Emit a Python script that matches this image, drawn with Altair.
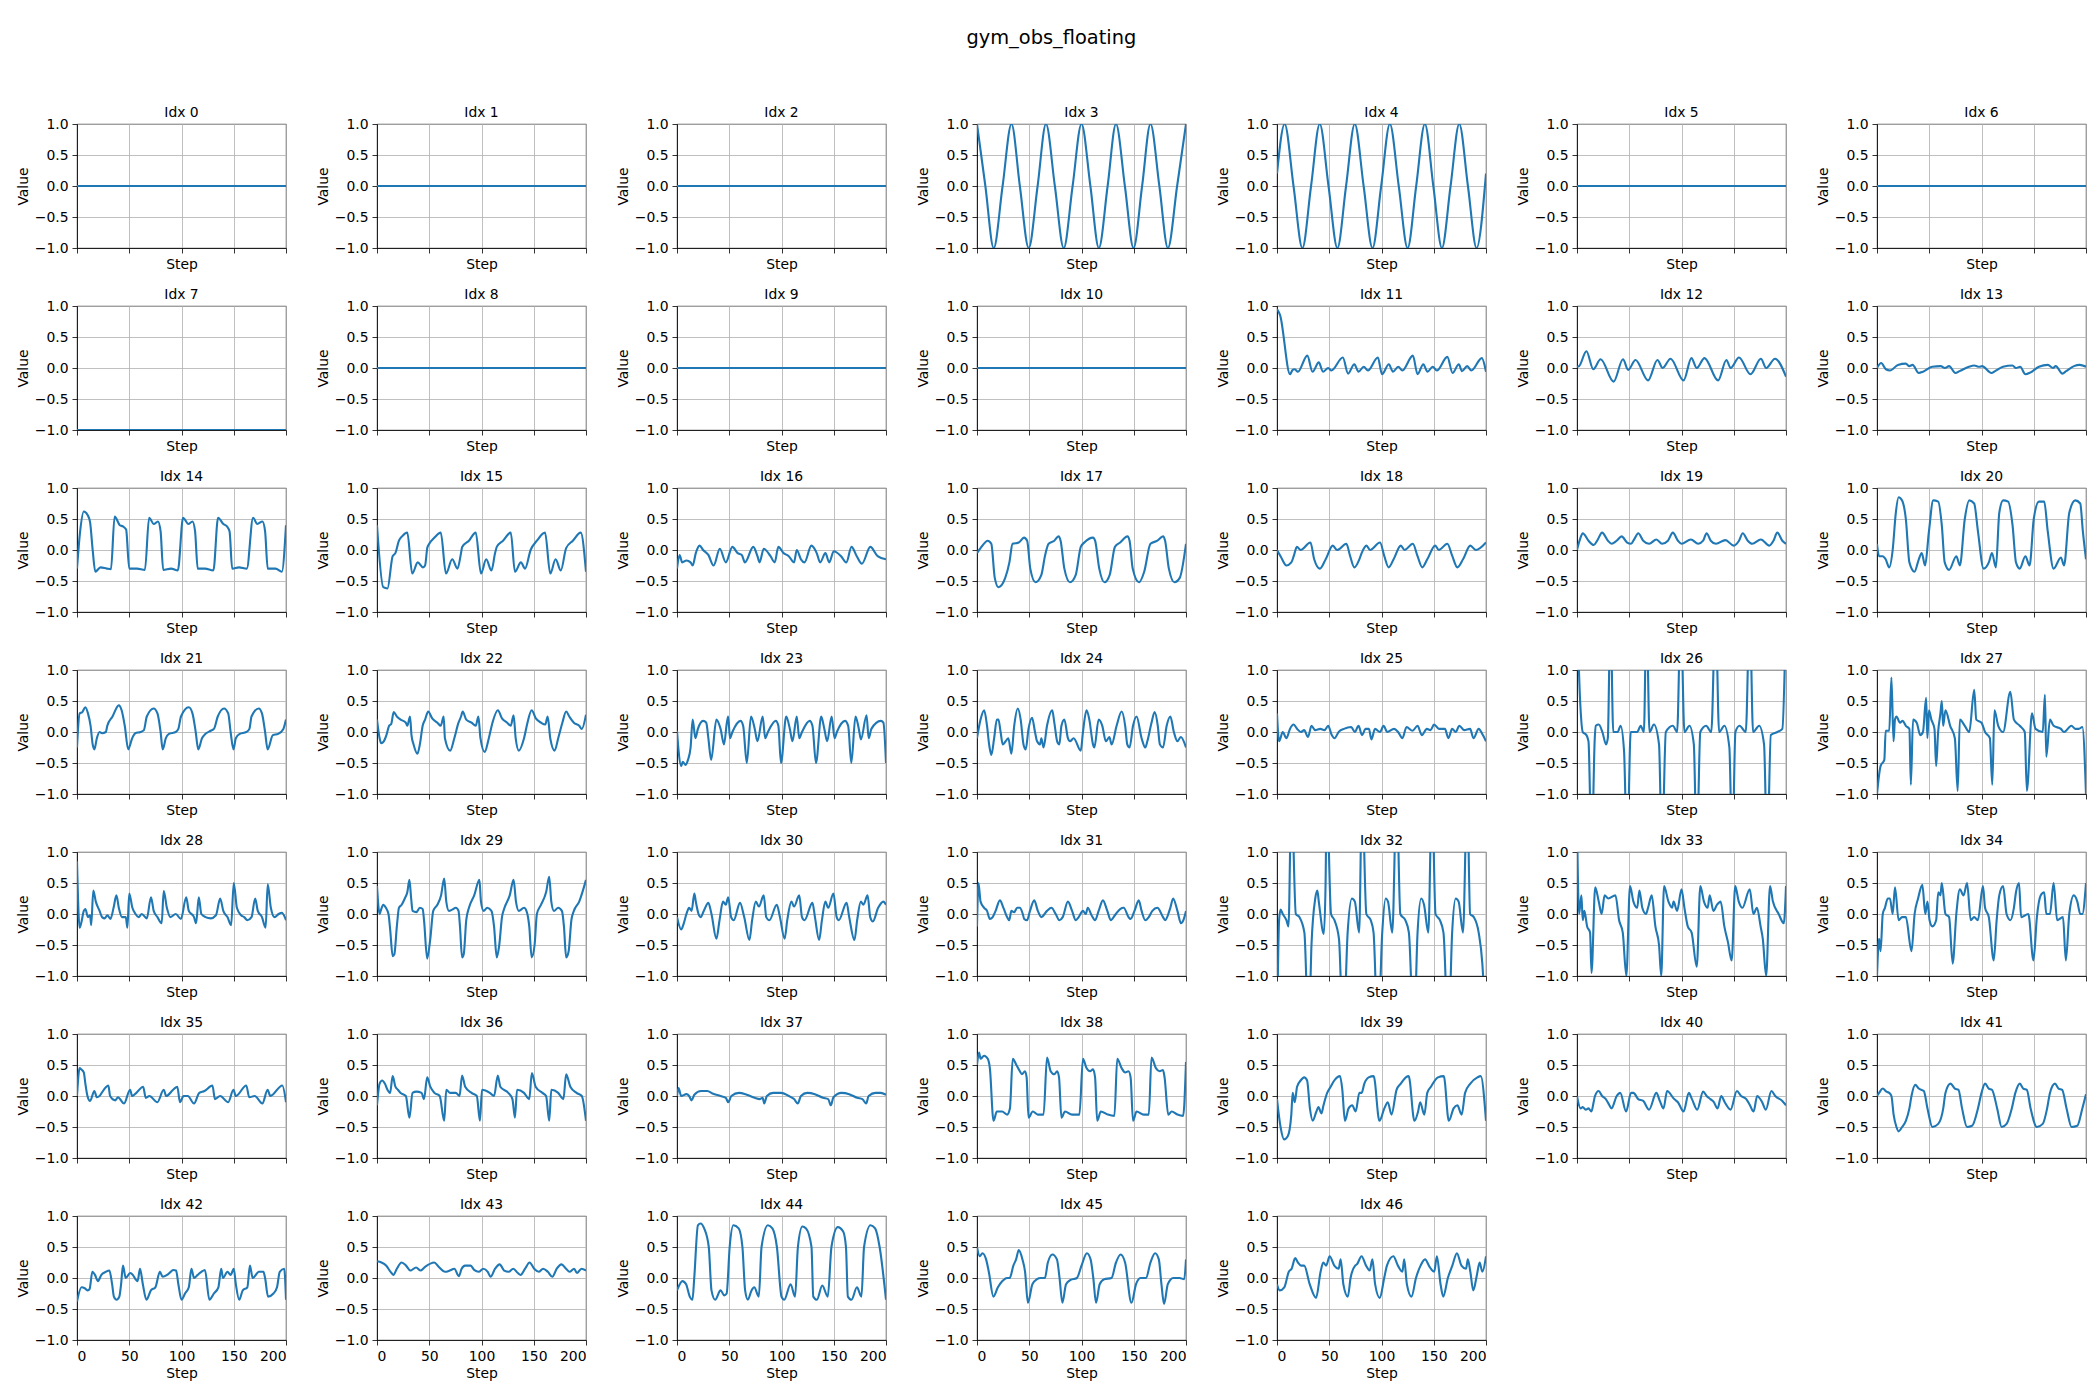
import altair as alt
import pandas as pd

TITLE = "gym_obs_floating"
X_TICKS = [0, 50, 100, 150, 200]
Y_TICKS = [-1.0, -0.5, 0.0, 0.5, 1.0]
LINE_COLOR = "#1f77b4"

IDX_00 = [(0, 0.0), (200, 0.0)]
IDX_01 = [(0, 0.0), (200, 0.0)]
IDX_02 = [(0, 0.0), (200, 0.0)]
IDX_03 = [(0, 1), (8, 0), (16, -1), (24.5, 0), (33, 1), (41, 0), (49.5, -1), (58, 0), (66, 1), (74.5, 0),
          (83, -1), (91.5, 0), (100, 1), (108.5, 0), (116.6, -1), (125, 0), (133, 1), (141.5, 0), (149.8, -1),
          (158, 0), (166, 1), (174.5, 0), (182.7, -1), (191.5, 0), (200, 1)]
IDX_04 = [(0, 0.2), (7.3, 1), (15.8, 0), (24.3, -1), (32.6, 0), (40.9, 1), (49.3, 0), (57.8, -1), (66.1, 0),
          (74.4, 1), (82.9, 0), (91.4, -1), (99.7, 0), (108, 1), (116.5, 0), (125, -1), (133.2, 0), (141.5, 1),
          (149.6, 0), (157.8, -1), (166.1, 0), (174.4, 1), (182.7, 0), (191, -1), (200, 0.2)]
IDX_05 = [(0, 0.0), (200, 0.0)]
IDX_06 = [(0, 0.0), (200, 0.0)]
IDX_07 = [(0, -1.0), (200, -1.0)]
IDX_08 = [(0, 0.0), (200, 0.0)]
IDX_09 = [(0, 0.0), (200, 0.0)]
IDX_10 = [(0, 0.0), (200, 0.0)]
IDX_11 = [(0, 0.95), (3, 0.85), (12.5, -0.1), (15, -0.03), (17, -0.02), (20, -0.06), (29, 0.2), (34, -0.06),
          (40, 0.09), (44, -0.06), (49, 0.0), (52, -0.04), (63, 0.17), (68, -0.09), (74, 0.06), (78, -0.06),
          (83, 0.02), (87, -0.04), (96.5, 0.17), (100.5, -0.1), (107, 0.06), (111, -0.06), (116, 0.02),
          (120, -0.04), (130, 0.2), (134.5, -0.1), (140, 0.06), (144, -0.06), (149, 0.02), (153, -0.04),
          (163, 0.18), (168, -0.08), (174, 0.06), (177, -0.05), (182, 0.03), (186, -0.04), (196, 0.16),
          (200, -0.06)]
IDX_12 = [(0, 0.02), (2, 0.03), (9, 0.27), (15.6, -0.02), (22.6, 0.14), (35, -0.22), (44, 0.14), (49, -0.03),
          (56, 0.13), (68, -0.2), (77, 0.13), (82, 0.0), (89.5, 0.15), (102, -0.2), (109.5, 0.16), (114.6, 0.0),
          (122, 0.16), (135, -0.2), (143, 0.13), (147, 0.0), (155, 0.17), (166, -0.1), (176, 0.15), (181, 0.0),
          (189.5, 0.15), (200, -0.14)]
IDX_13 = [(0, 0.0), (4, 0.08), (8.5, -0.02), (12.5, -0.04), (20, 0.05), (27.6, 0.07), (31, 0.03), (34, 0.05),
          (40, -0.08), (44, -0.06), (52.8, 0.02), (61, 0.03), (65, 0.0), (69, 0.03), (75, -0.08), (79, -0.05),
          (88, 0.02), (93, 0.04), (98, 0.02), (100.5, 0.03), (109.5, -0.08), (113, -0.05), (120.6, 0.02),
          (129.6, 0.04), (133, 0.0), (137, 0.02), (142, -0.1), (147, -0.07), (155, 0.02), (163.5, 0.05),
          (168.5, 0.0), (171, 0.03), (177.5, -0.09), (181, -0.05), (188.5, 0.03), (194, 0.05), (200, 0.02)]
IDX_14 = [(0, -0.3), (3, 0.3), (6.5, 0.62), (10, 0.57), (12.5, 0.45), (15, 0.0), (17.5, -0.35), (22.5, -0.28),
          (28.5, -0.3), (32.5, -0.31), (36, 0.54), (41, 0.4), (44, 0.38), (47, 0.33), (50, -0.3), (57.5, -0.3),
          (65, -0.32), (69, 0.52), (73.5, 0.42), (77.5, 0.46), (80, 0.3), (82.5, -0.32), (90, -0.3),
          (96.5, -0.33), (101.5, 0.52), (106.5, 0.42), (110.5, 0.46), (113, 0.3), (115.5, -0.3), (122.5, -0.3),
          (130.5, -0.33), (135, 0.52), (140, 0.42), (143.5, 0.38), (146, 0.3), (148.5, -0.3), (155, -0.28),
          (162.5, -0.3), (168.5, 0.52), (172.5, 0.42), (177.5, 0.46), (180, 0.3), (182.5, -0.3), (190, -0.3),
          (196, -0.35), (200, 0.4)]
IDX_15 = [(0, 0.4), (6, -0.6), (10, -0.62), (15, -0.1), (17.6, -0.05), (21, 0.15), (24, 0.22), (29, 0.28),
          (33.7, -0.38), (39, -0.2), (44, -0.28), (46, -0.25), (48.2, 0.04), (50, 0.1), (55, 0.2), (61, 0.28),
          (66, -0.38), (72, -0.15), (77, -0.3), (80.4, -0.05), (81.5, 0.05), (88, 0.15), (94.5, 0.28),
          (99.5, -0.38), (104.5, -0.15), (109.5, -0.33), (113, -0.05), (114.6, 0.05), (120.6, 0.15),
          (128, 0.28), (132, -0.35), (137.7, -0.2), (141.7, -0.3), (147, 0.0), (153, 0.15), (160.8, 0.28),
          (165.8, -0.38), (170.9, -0.15), (175.9, -0.33), (181, 0.03), (187.4, 0.15), (195, 0.28), (200, -0.35)]
IDX_16 = [(0, -0.3), (2.5, -0.08), (5, -0.2), (9, -0.17), (13, -0.2), (15, -0.25), (18, -0.05), (21.6, 0.07),
          (25, 0.0), (30, -0.08), (35, -0.25), (41, 0.02), (46.7, -0.2), (53, 0.05), (58, -0.05), (62, -0.08),
          (65, -0.2), (73, 0.05), (77, -0.1), (79, -0.2), (83, 0.02), (89.5, -0.1), (93.5, -0.2), (97, 0.05),
          (102, -0.05), (107, -0.1), (112, -0.2), (114.6, 0.0), (118.6, -0.15), (122, -0.2), (128.6, 0.07),
          (133.7, -0.05), (137, -0.2), (142, -0.05), (145.7, -0.2), (150, -0.02), (157, -0.1), (162, -0.2),
          (167, 0.05), (172, -0.1), (177, -0.22), (185, 0.05), (192, -0.1), (200, -0.15)]
IDX_17 = [(0, -0.05), (3.4, 0.03), (10.3, 0.15), (13.7, 0.1), (17, -0.45), (20.5, -0.6), (27, -0.45),
          (31, -0.2), (34, 0.1), (40, 0.12), (45, 0.2), (48, 0.15), (51, -0.3), (56, -0.52), (61.6, -0.4),
          (65, -0.1), (68.5, 0.1), (74, 0.15), (78, 0.22), (80, 0.15), (83.6, -0.3), (89, -0.52), (94.5, -0.4),
          (99.3, 0.05), (102.7, 0.12), (111, 0.2), (113, 0.15), (117, -0.3), (122, -0.52), (127, -0.4),
          (132, 0.05), (137, 0.12), (144, 0.22), (146, 0.15), (149, -0.3), (155, -0.52), (160, -0.35),
          (166, 0.1), (172.6, 0.15), (178, 0.22), (180, 0.15), (183.6, -0.3), (189, -0.52), (194, -0.45),
          (200, 0.1)]
IDX_18 = [(0, 0.0), (3.4, -0.1), (9, -0.25), (13.7, -0.2), (16, -0.1), (19, 0.05), (22.6, 0.0), (32, 0.12),
          (35.6, -0.15), (41, -0.3), (46.6, -0.15), (53.4, 0.07), (57.5, 0.0), (66.4, 0.1), (70, -0.1),
          (74, -0.28), (78.8, -0.15), (81, -0.05), (85.6, 0.07), (89, 0.0), (98.6, 0.12), (102.7, -0.1),
          (106.8, -0.28), (111.6, -0.15), (118.5, 0.07), (122, 0.0), (130, 0.1), (134.5, -0.1), (139, -0.28),
          (143.8, -0.15), (151.4, 0.07), (154.8, 0.0), (163, 0.1), (167.8, -0.1), (172.6, -0.28), (178, -0.15),
          (185, 0.07), (190.4, 0.0), (200, 0.12)]
IDX_19 = [(0, 0.0), (3.4, 0.2), (5.5, 0.27), (11, 0.15), (16, 0.08), (19.3, 0.15), (24, 0.28), (29.6, 0.15),
          (33, 0.1), (38, 0.15), (42.7, 0.22), (48, 0.12), (51.7, 0.1), (55, 0.18), (58.6, 0.27), (63.4, 0.15),
          (69, 0.1), (76, 0.17), (81.4, 0.1), (87, 0.15), (91.7, 0.28), (96.6, 0.15), (100, 0.1), (109, 0.17),
          (116, 0.1), (120.7, 0.15), (124, 0.27), (128, 0.15), (133, 0.1), (142, 0.16), (150, 0.07),
          (155, 0.15), (158.6, 0.27), (163.4, 0.15), (167.6, 0.1), (176, 0.17), (184, 0.07), (188, 0.15),
          (191.7, 0.28), (196.5, 0.15), (200, 0.1)]
IDX_20 = [(0, 0.1), (2, -0.1), (5.5, -0.1), (8.3, -0.15), (11.7, -0.28), (15, 0.0), (18, 0.6), (20.7, 0.85),
          (24, 0.8), (27.6, 0.5), (31, -0.2), (35.9, -0.35), (40, -0.15), (42.8, -0.05), (46, -0.25),
          (49.7, 0.3), (53.8, 0.8), (58.6, 0.78), (62, 0.4), (64.8, -0.2), (69, -0.32), (75.9, -0.1),
          (79.3, -0.25), (84, 0.5), (88.3, 0.8), (93, 0.75), (96.6, 0.3), (102, -0.3), (107, -0.2),
          (110, -0.05), (113.8, -0.28), (117, 0.6), (120.7, 0.8), (125.5, 0.78), (129.7, 0.4), (133, -0.2),
          (136.6, -0.3), (142, -0.1), (146, -0.25), (150, 0.5), (155, 0.78), (160, 0.78), (163.4, 0.3),
          (169, -0.3), (176, -0.12), (179, -0.25), (184, 0.6), (189.7, 0.8), (194.5, 0.75), (197, 0.3),
          (200, -0.15)]
IDX_21 = [(0, -0.25), (2.5, 0.3), (5, 0.32), (8, 0.4), (10.5, 0.3), (13, 0.1), (15, -0.2), (16.6, -0.28),
          (19, -0.1), (21.6, 0.0), (24, -0.02), (27.6, 0.0), (29, 0.1), (34, 0.25), (40, 0.43), (42.7, 0.35),
          (45.7, 0.1), (49, -0.28), (52.8, -0.1), (55.8, -0.02), (60.8, 0.0), (64, 0.03), (66.8, 0.25),
          (73.4, 0.38), (77, 0.3), (80, 0.0), (82, -0.28), (85, -0.1), (88, -0.03), (94.5, 0.0), (97, 0.05),
          (99.5, 0.25), (107, 0.4), (110.5, 0.3), (113.6, 0.0), (116, -0.28), (119.6, -0.1), (123, -0.03),
          (128, 0.02), (131, 0.05), (134.7, 0.25), (140.7, 0.38), (144.7, 0.3), (147, 0.0), (149.7, -0.28),
          (152, -0.1), (155.8, -0.03), (162, 0.0), (165, 0.05), (167, 0.25), (174, 0.38), (177, 0.3),
          (180, 0.0), (182.4, -0.28), (187.4, -0.05), (192.5, -0.03), (197.5, 0.05), (200, 0.2)]
IDX_22 = [(0, 0.2), (2.5, -0.1), (4, -0.18), (6.5, -0.15), (9, -0.05), (11.6, 0.1), (13.6, 0.13), (16, 0.32),
          (19, 0.25), (22.6, 0.2), (27.6, 0.15), (29, 0.1), (31.6, 0.25), (33, -0.05), (35, -0.2),
          (38.7, -0.35), (41, -0.2), (43.7, 0.1), (46, 0.2), (49, 0.33), (52.8, 0.22), (57.8, 0.15), (61, 0.1),
          (63.8, 0.25), (65, -0.1), (70, -0.3), (74, -0.1), (78, 0.15), (80.4, 0.25), (82, 0.33), (85.4, 0.2),
          (90.5, 0.15), (94.5, 0.1), (97, 0.25), (99, -0.1), (103, -0.32), (107, -0.1), (110.5, 0.15),
          (115.6, 0.35), (119.6, 0.22), (124.6, 0.15), (128, 0.1), (130.7, 0.27), (132.7, -0.1), (135.7, -0.3),
          (140.7, -0.1), (144, 0.15), (148, 0.35), (152, 0.22), (157, 0.15), (161, 0.12), (163.3, 0.25),
          (165.8, -0.1), (170, -0.3), (173.4, -0.1), (177.4, 0.15), (181, 0.33), (184, 0.25), (188.4, 0.15),
          (193.5, 0.1), (196, 0.05), (200, 0.28)]
IDX_23 = [(0, 0.02), (1.5, -0.3), (4, -0.55), (5.5, -0.48), (8, -0.53), (10.5, -0.45), (13, -0.25), (15, 0.2),
          (17.6, -0.1), (20, 0.05), (25, 0.18), (28, 0.15), (30, -0.1), (32.7, -0.45), (37.7, 0.2),
          (41.7, 0.05), (45, -0.2), (47.7, 0.15), (49, 0.25), (50.7, -0.1), (53, 0.0), (60.8, 0.18),
          (63.3, 0.1), (66.8, -0.5), (70.8, 0.25), (74.4, 0.05), (77, -0.15), (82, 0.25), (84.4, -0.1),
          (87, 0.0), (94.5, 0.18), (97, 0.1), (99.5, -0.5), (104.5, 0.25), (108, 0.05), (110.5, -0.15),
          (114.6, 0.25), (117, -0.1), (119.6, 0.0), (127, 0.18), (129.6, 0.1), (133, -0.5), (138, 0.25),
          (141, 0.05), (143.7, -0.15), (148, 0.25), (150.8, -0.1), (153, 0.0), (160.8, 0.18), (163.8, 0.1),
          (166.8, -0.5), (170.8, 0.25), (174, 0.05), (176, -0.12), (181.4, 0.27), (183.4, -0.1), (186, 0.05),
          (195, 0.18), (197.5, 0.15), (200, -0.5)]
IDX_24 = [(0, -0.1), (3.4, 0.2), (6.8, 0.35), (9.6, 0.1), (11.6, -0.2), (13.7, -0.37), (16.4, -0.1), (19, 0.2),
          (20.5, 0.2), (22.6, 0.0), (24.6, -0.2), (27.4, -0.15), (30, -0.1), (32.9, -0.35), (35.6, 0.1),
          (39, 0.38), (41.8, 0.2), (44.5, -0.2), (46.6, -0.28), (49.3, 0.05), (52.7, 0.23), (55.5, 0.0),
          (57.5, -0.15), (60.3, -0.2), (61.6, -0.1), (63.7, -0.25), (67, 0.1), (72, 0.35), (74, 0.15),
          (76.7, -0.15), (78.8, -0.2), (80.8, 0.1), (83.6, 0.2), (87, -0.1), (89, -0.15), (92.5, -0.1),
          (99.3, -0.3), (101.4, 0.0), (104.8, 0.35), (107.5, 0.2), (111, -0.2), (112.3, -0.25), (116.4, 0.2),
          (119.9, 0.1), (123.3, -0.15), (126.7, -0.08), (128.8, -0.2), (133.6, 0.1), (138.4, 0.33),
          (141.8, 0.1), (143.8, -0.2), (146, -0.25), (149.3, 0.1), (152.7, 0.25), (157.5, -0.1), (161, -0.25),
          (163, -0.15), (167, 0.15), (170, 0.32), (173, 0.1), (175, -0.2), (178, -0.25), (181.5, 0.1),
          (185, 0.25), (188.4, 0.0), (191.8, -0.15), (195, -0.08), (200, -0.25)]
IDX_25 = [(0, 0.3), (2, -0.15), (5.5, 0.0), (9, -0.1), (12.4, 0.05), (15.9, 0.12), (19.3, 0.05), (22.8, 0.0),
          (26, 0.03), (29.7, -0.08), (33, 0.1), (36.5, 0.03), (41.4, 0.05), (45.5, 0.03), (49, 0.1),
          (52.4, -0.05), (55, -0.1), (59, 0.0), (64, 0.05), (71, 0.08), (74.5, 0.0), (78, 0.1), (81.4, -0.05),
          (84.8, 0.05), (88, 0.05), (90.3, -0.12), (93.8, 0.05), (98.6, 0.0), (102, 0.1), (105.5, 0.0),
          (112, 0.05), (115.9, 0.0), (120, -0.1), (124, 0.08), (129.7, 0.02), (134.5, 0.1), (138.6, -0.05),
          (143.4, 0.05), (146.9, 0.03), (150.3, 0.12), (155, 0.05), (160.7, 0.05), (164, -0.1), (167.6, 0.05),
          (171, 0.0), (174.5, 0.1), (179, 0.03), (184.8, 0.05), (188, -0.1), (193, 0.05), (197, -0.05),
          (200, -0.15)]
IDX_26 = [(0, 2.0), (3, 0.5), (5.5, 0.0), (9, -0.05), (11, -0.15), (14, -2.0), (17, -0.1), (18, 0.1),
          (20.8, 0.12), (24.3, 0.0), (27.8, -0.2), (29.5, -0.1), (32, 2.0), (34.7, 0.0), (38.9, 0.0),
          (41.7, 0.1), (45, -0.3), (48, -2.0), (51.4, 0.0), (57.6, 0.0), (61, 0.1), (64, 0.0), (66.5, 2.0),
          (69.4, 0.0), (73.6, 0.12), (78.5, -0.2), (81.3, -2.0), (85, 0.0), (91.7, 0.1), (95.8, 0.0),
          (99.3, 2.0), (102.8, 0.0), (107.6, 0.1), (111.8, -0.2), (114.6, -2.0), (118, 0.0), (123.6, 0.1),
          (128.5, 0.0), (132.6, 2.0), (136, 0.0), (141, 0.1), (145.8, -0.25), (148.6, -2.0), (151.6, 0.0),
          (155.6, 0.1), (161.5, 0.0), (165.3, 2.0), (168.5, 0.0), (174.3, 0.1), (179, -0.2), (182, -2.0),
          (185.5, -0.05), (191.7, 0.0), (196.5, 0.05), (200, 2.0)]
IDX_27 = [(0, -1.0), (3.4, -0.55), (7, -0.45), (8.3, 0.02), (11.7, 0.02), (13.8, 0.88), (15.8, -0.15),
          (17.2, 0.2), (18.6, 0.25), (22, 0.15), (24.5, 0.18), (27.6, 0.1), (31, 0.05), (32.4, -0.85),
          (34.5, 0.2), (38, 0.15), (41.4, -0.05), (44, 0.0), (47, 0.55), (48.2, -0.1), (49.7, 0.35),
          (52, 0.2), (55, 0.05), (56.6, -0.55), (58.5, 0.0), (60.7, 0.3), (62, 0.5), (63.3, 0.1), (65.5, 0.35),
          (70, 0.1), (74.5, -0.1), (77.2, -0.95), (79.3, 0.2), (84, 0.1), (88.3, 0.0), (93, 0.68), (95, 0.2),
          (100, 0.15), (103.4, 0.0), (108, -0.1), (110.3, -0.85), (112.4, 0.35), (116, 0.1), (120.7, 0.0),
          (127.6, 0.65), (131, 0.2), (136.6, 0.1), (141.4, 0.0), (143.4, -0.95), (148.3, 0.3), (151.7, 0.05),
          (158.6, 0.0), (160.7, 0.6), (162, -0.4), (165.5, 0.2), (169, 0.1), (176, 0.05), (179, 0.0),
          (186, 0.1), (190, 0.05), (193, 0.05), (196.5, 0.08), (200, -1.0)]
IDX_28 = [(0, 0.85), (2.5, -0.22), (4, -0.15), (6.5, 0.05), (8, 0.08), (10.5, -0.05), (12.5, -0.02),
          (13.6, -0.18), (15.6, 0.38), (18, 0.2), (21.6, 0.05), (24, -0.05), (26.6, -0.07), (29, -0.02),
          (32, -0.08), (35, 0.1), (37.7, 0.3), (40, 0.1), (43, -0.05), (46.7, -0.05), (48.2, -0.22), (50, 0.33),
          (53, 0.1), (56, 0.0), (59, -0.05), (62, 0.0), (66.8, -0.07), (70.8, 0.27), (73.4, 0.05), (77, -0.05),
          (81, -0.15), (83, 0.37), (86, 0.1), (89.4, -0.05), (94.5, 0.0), (99.5, -0.08), (104.5, 0.27),
          (107, 0.05), (112, -0.05), (114, -0.15), (116.5, 0.27), (119, 0.0), (123, -0.05), (128, -0.07),
          (133, -0.02), (137, 0.25), (140, 0.05), (144, -0.05), (147.5, -0.18), (150, 0.5), (153, 0.1),
          (157, -0.02), (160, -0.05), (163, -0.1), (167, -0.05), (170.5, 0.25), (173, 0.05), (177, -0.05),
          (180.5, -0.22), (182.5, 0.48), (185.5, 0.1), (189, -0.05), (193, 0.0), (196, 0.02), (200, -0.1)]
IDX_29 = [(0, 0.45), (2.5, 0.0), (3.5, 0.05), (6, 0.15), (8.5, 0.1), (11, 0.0), (12.6, -0.25), (15, -0.68),
          (16.6, -0.65), (19, -0.2), (21, 0.1), (23.6, 0.15), (26.6, 0.25), (29, 0.35), (31, 0.55),
          (32.7, 0.25), (34, 0.05), (37.7, 0.03), (41, 0.1), (43.7, 0.08), (45, -0.1), (48, -0.72), (51, -0.4),
          (53.8, 0.05), (57.8, 0.15), (61.3, 0.3), (64.3, 0.57), (66.3, 0.2), (68.8, 0.05), (71.9, 0.07),
          (75.4, 0.1), (78, 0.05), (79.4, -0.2), (81.4, -0.7), (83, -0.65), (85.4, -0.1), (88, 0.1), (93, 0.3),
          (98, 0.55), (99.5, 0.2), (102, 0.05), (105.5, 0.1), (109.5, 0.05), (112, -0.2), (114.6, -0.7),
          (117, -0.5), (119.6, -0.05), (122, 0.1), (127, 0.3), (130.7, 0.55), (133, 0.2), (135.7, 0.05),
          (140.7, 0.1), (143, 0.05), (145.7, -0.2), (148, -0.7), (150.8, -0.5), (153, 0.0), (157, 0.15),
          (161.8, 0.35), (164.8, 0.6), (166.8, 0.2), (169.3, 0.05), (173.4, 0.1), (176.9, 0.05), (178.9, -0.2),
          (181, -0.7), (183.4, -0.6), (186, -0.1), (188.4, 0.05), (193.5, 0.2), (200, 0.55)]
IDX_30 = [(0, -0.05), (4, -0.25), (6.5, -0.15), (9, 0.0), (11.6, 0.1), (14, 0.05), (16.6, 0.33), (18, 0.2),
          (20.6, 0.0), (22.6, -0.05), (25.6, 0.05), (30, 0.18), (33, 0.0), (37.7, -0.4), (40.7, -0.1),
          (44, 0.2), (46.7, 0.15), (49, 0.27), (51.8, -0.05), (54.3, -0.1), (60.3, 0.18), (64.3, -0.05),
          (69.3, -0.42), (71.9, -0.1), (75.4, 0.2), (78.4, 0.12), (83, 0.3), (85.4, -0.05), (88.4, -0.1),
          (95.5, 0.15), (98.5, -0.05), (103, -0.4), (105.5, -0.1), (109.5, 0.2), (112, 0.12), (117, 0.3),
          (119.6, -0.05), (122, -0.1), (129.6, 0.18), (132, -0.05), (136, -0.42), (138.7, -0.1), (142, 0.2),
          (144.7, 0.1), (149.7, 0.33), (152.8, -0.05), (154.8, -0.1), (162.3, 0.18), (164.8, -0.05),
          (169.8, -0.42), (172.4, -0.1), (175.9, 0.2), (178.4, 0.15), (182.4, 0.3), (184.9, -0.05),
          (187.4, -0.12), (192.5, 0.1), (197.5, 0.2), (200, 0.15)]
IDX_31 = [(0, -0.2), (1.4, 0.5), (3.4, 0.2), (6.8, 0.1), (9.6, 0.05), (12.3, -0.08), (15, -0.05),
          (17.8, 0.05), (21.9, 0.22), (25.3, 0.1), (28.8, -0.05), (30.8, -0.1), (32.9, 0.05), (35.6, 0.03),
          (38.4, 0.1), (41, 0.1), (43.8, 0.0), (45.2, -0.08), (47.9, -0.1), (50.7, 0.05), (54.8, 0.22),
          (58.2, 0.05), (61.6, -0.05), (67, 0.05), (71.2, 0.1), (75.3, 0.0), (78.8, -0.1), (82, -0.05),
          (87, 0.2), (91, 0.05), (94.5, -0.1), (97.3, -0.05), (101.4, 0.05), (104, 0.0), (106, 0.1),
          (109.6, -0.02), (113, -0.1), (116.4, 0.05), (120.5, 0.22), (124.7, 0.05), (128, -0.1), (132, -0.02),
          (137, 0.08), (140.4, 0.1), (145, -0.05), (147, -0.08), (150.7, 0.05), (154.8, 0.22), (157.5, 0.05),
          (161, -0.1), (164.4, -0.05), (167.8, 0.05), (172.6, 0.1), (178, -0.05), (180, -0.1), (185, 0.1),
          (187.7, 0.25), (191.8, 0.05), (195.2, -0.15), (197.5, -0.1), (200, 0.05)]
IDX_32 = [(0, -2.0), (2, -0.1), (3.4, 0.07), (5.5, 0.0), (9, -0.1), (11, -0.2), (13.8, 2.0), (18, 0.0),
          (21.4, -0.05), (26.2, -0.3), (30.3, -2.0), (33, -0.5), (36.6, 0.25), (38.6, 0.38), (40, 0.2),
          (44.8, -0.32), (46.5, 0.5), (47.6, 2.0), (51.7, 0.0), (55, -0.1), (59.3, -0.4), (63.4, -2.0),
          (67.6, -0.3), (71.7, 0.25), (74.5, 0.2), (78.6, -0.3), (81.4, 2.0), (85.5, 0.0), (89.7, -0.1),
          (92.4, -0.3), (96.6, -2.0), (100.7, -0.3), (104, 0.25), (106.2, 0.2), (110.3, -0.3), (114.5, 2.0),
          (118, 0.0), (122.8, -0.1), (126.2, -0.3), (131, -2.0), (134.5, -0.3), (138, 0.25), (140.7, 0.15),
          (144.8, -0.3), (148.3, 2.0), (151.7, 0.0), (155.9, -0.1), (159.3, -0.3), (164, -2.0), (167.6, -0.3),
          (171, 0.25), (173.8, 0.2), (178, -0.3), (182, 2.0), (184.8, 0.0), (188.3, -0.05), (193, -0.3),
          (196.5, -0.8), (200, -2.0)]
IDX_33 = [(0, 1.5), (2, 0.0), (4.2, 0.3), (5.5, -0.1), (7, 0.05), (9.7, -0.2), (12.5, -0.3), (13.9, -0.95),
          (17.4, 0.43), (20.8, 0.2), (23.6, 0.0), (26.4, 0.3), (29.9, 0.25), (36.8, 0.3), (40.3, -0.1),
          (43.8, -0.3), (47.2, -1.0), (50.7, 0.45), (54, 0.2), (57.6, 0.1), (59.7, 0.38), (62.5, 0.1),
          (66, 0.0), (68, 0.1), (71.5, 0.3), (75, -0.2), (78.5, -0.5), (80.6, -1.0), (83.3, 0.45), (87.5, 0.2),
          (91, 0.1), (92.4, 0.2), (95.8, 0.05), (100, 0.4), (102.8, 0.1), (106, -0.2), (109.7, -0.3),
          (114.6, -0.85), (118, 0.45), (121.5, 0.2), (125, 0.1), (127, 0.3), (130.5, 0.05), (134, 0.15),
          (137.5, 0.2), (141, -0.2), (144.4, -0.45), (148, -0.75), (151.4, 0.45), (154.8, 0.2), (158.3, 0.1),
          (165.3, 0.4), (168.8, 0.0), (172.2, 0.1), (175.7, -0.2), (177.8, -0.4), (181, -1.0), (184.7, 0.45),
          (187.5, 0.2), (193, 0.0), (197.9, -0.15), (200, 0.45)]
IDX_34 = [(0, -1.0), (2, -0.4), (3.4, -0.6), (5.5, 0.0), (7.6, 0.1), (10.3, 0.25), (12.4, 0.25), (15, 0.0),
          (17.2, 0.43), (20.7, -0.1), (24, -0.05), (27.6, -0.05), (33, -0.6), (36, 0.0), (39.3, 0.25),
          (43.4, 0.47), (46.2, 0.0), (48.3, 0.2), (50.3, -0.1), (53, -0.2), (56.6, -0.1), (58.6, 0.35),
          (60.7, 0.3), (62, 0.5), (65.5, 0.0), (69, -0.05), (72.4, -0.8), (75.9, 0.0), (79.3, 0.4),
          (82.8, 0.3), (86.2, 0.5), (89.7, -0.1), (93, -0.05), (96.5, -0.1), (101.4, 0.45), (103.4, 0.1),
          (107, -0.05), (111.7, -0.75), (114.5, -0.1), (117, 0.3), (120.7, 0.45), (124, 0.0), (127.6, -0.1),
          (131, 0.1), (133, 0.35), (135.9, 0.5), (137.9, -0.05), (144.8, 0.0), (149.7, -0.75), (153, -0.05),
          (156.6, 0.3), (160, 0.35), (162, 0.0), (165.5, 0.0), (169, 0.5), (172.4, -0.1), (178, -0.05),
          (180.7, -0.75), (184, 0.0), (188.3, 0.3), (191.7, 0.2), (194.5, 0.0), (196.5, 0.0), (200, 0.5)]
IDX_35 = [(0, 0.0), (2.5, 0.45), (4, 0.43), (6.5, 0.38), (8, 0.2), (10, 0.0), (12.5, -0.08), (16.6, 0.08),
          (19, -0.02), (21.6, 0.0), (25.6, 0.1), (30, 0.17), (31.7, 0.0), (36.7, -0.07), (39.2, -0.02),
          (45, -0.12), (50.8, 0.1), (52.8, 0.0), (56.8, 0.05), (63.3, 0.15), (65.8, -0.03), (69.3, 0.0),
          (76.9, -0.1), (83, 0.1), (85.4, 0.0), (92, 0.1), (96, 0.15), (98.5, -0.1), (102, 0.0), (106, 0.0),
          (112, -0.12), (117, 0.05), (122, 0.08), (129.6, 0.17), (132, -0.05), (137, 0.0), (144.7, -0.1),
          (149.7, 0.1), (152, 0.0), (162, 0.17), (164.8, -0.02), (170, 0.0), (177.4, -0.12), (182.4, 0.1),
          (185, 0.0), (196.5, 0.17), (200, -0.1)]
IDX_36 = [(0, -0.15), (2.5, 0.2), (5, 0.25), (7.5, 0.2), (10, 0.1), (12.5, 0.05), (15, 0.32), (17.6, 0.15),
          (20, 0.1), (22.6, 0.05), (27.6, 0.0), (31, -0.35), (34, 0.05), (37.7, 0.07), (42.7, 0.05),
          (45, -0.05), (48, 0.3), (51, 0.15), (55, 0.05), (60, 0.0), (64.3, -0.4), (66.3, 0.1), (70, 0.05),
          (75.4, 0.05), (79, 0.0), (81.4, 0.33), (84.4, 0.15), (90.5, 0.05), (95.5, 0.0), (98.5, -0.4),
          (100.5, 0.1), (108, 0.05), (112, 0.0), (115.6, 0.33), (118, 0.15), (125.6, 0.05), (129.6, -0.05),
          (132, -0.35), (134, 0.1), (140.7, 0.05), (145.7, -0.05), (148.2, 0.37), (151.8, 0.15), (158.3, 0.05),
          (161.8, 0.0), (164.8, -0.4), (166.8, 0.1), (173.4, 0.05), (178.4, -0.05), (181, 0.35), (185, 0.15),
          (191, 0.05), (196, 0.0), (200, -0.4)]
IDX_37 = [(0, 0.0), (1.5, 0.13), (4, 0.0), (9, 0.03), (11.6, 0.0), (14, -0.07), (16.6, 0.02), (23, 0.08),
          (29, 0.08), (34, 0.04), (41.7, 0.0), (46.7, -0.03), (49, -0.1), (52, 0.0), (59.3, 0.05), (66.8, 0.02),
          (74.4, -0.03), (79.4, -0.05), (82, -0.03), (83.4, -0.12), (86, 0.0), (92, 0.05), (99.5, 0.05),
          (107, 0.0), (112, -0.05), (115.6, -0.12), (118.6, 0.0), (124.6, 0.05), (132, 0.03), (139.7, -0.03),
          (144.7, -0.05), (147.2, -0.15), (149.7, -0.02), (157.3, 0.05), (164.8, 0.03), (172.4, -0.03),
          (177.4, -0.05), (181, -0.12), (183.4, 0.0), (190, 0.05), (195, 0.05), (200, 0.02)]
IDX_38 = [(0, 0.5), (2, 0.7), (3.4, 0.6), (6.8, 0.65), (10.3, 0.6), (12.3, 0.45), (15.8, -0.4), (19, -0.25),
          (24, -0.25), (28.8, -0.3), (31.5, -0.2), (34.2, 0.6), (37.7, 0.5), (41, 0.4), (43, 0.35),
          (45.9, 0.4), (47.5, 0.3), (49.3, -0.35), (53.4, -0.25), (58.2, -0.3), (63.7, -0.3), (67, 0.62),
          (70.5, 0.4), (74, 0.35), (76.7, 0.4), (78.5, 0.3), (80.8, -0.35), (84.2, -0.25), (91, -0.3),
          (98, -0.3), (101.4, 0.6), (104.8, 0.45), (108.2, 0.4), (111, 0.43), (113, 0.3), (115, -0.4),
          (118.5, -0.25), (125.3, -0.3), (131.5, -0.32), (134.2, 0.6), (138.4, 0.45), (141.8, 0.38),
          (145, 0.4), (147, 0.3), (149.3, -0.4), (152.7, -0.25), (159.6, -0.3), (164.4, -0.3), (167, 0.62),
          (171.2, 0.45), (174.7, 0.4), (178, 0.42), (179.5, 0.3), (183, -0.3), (186.3, -0.25), (191.8, -0.3),
          (197.3, -0.32), (200, 0.55)]
IDX_39 = [(0, -0.05), (3.4, -0.5), (6.8, -0.7), (10.3, -0.65), (13.7, -0.3), (15, 0.05), (17, -0.1),
          (19.2, 0.15), (22.6, 0.25), (26, 0.3), (28.8, 0.25), (31.5, -0.2), (34.2, -0.4), (37.7, -0.25),
          (39.7, -0.18), (42.5, -0.28), (44.5, -0.15), (48, 0.05), (51.4, 0.15), (54.8, 0.25), (60.3, 0.32),
          (62.5, 0.1), (65, -0.4), (68.5, -0.2), (72, -0.15), (75.3, -0.25), (78.8, 0.05), (81, 0.05),
          (83.6, 0.2), (87.7, 0.3), (92.5, 0.32), (98, -0.4), (102.7, -0.2), (106, -0.1), (109.6, -0.3),
          (114.4, 0.1), (118.5, 0.2), (123.3, 0.3), (126, 0.32), (131.5, -0.4), (135, -0.25), (137, -0.1),
          (141, -0.3), (143.8, 0.05), (147.3, 0.15), (154, 0.3), (159.6, 0.32), (164.4, -0.4), (169, -0.2),
          (172.6, -0.15), (176.7, -0.3), (180, 0.05), (185, 0.2), (191.8, 0.3), (195, 0.32), (200, -0.4)]
IDX_40 = [(0, 0.0), (3.4, -0.2), (5.5, -0.18), (8.3, -0.22), (11, -0.2), (13.8, -0.25), (15.9, -0.1),
          (17.2, 0.0), (20.7, 0.08), (24, 0.0), (27.6, -0.05), (31, -0.15), (33, -0.2), (38, 0.0), (41.4, 0.05),
          (47, -0.25), (51.7, 0.05), (54, 0.05), (58.6, -0.05), (63.4, -0.08), (69, -0.22), (75.9, 0.05),
          (79.3, -0.08), (82.8, -0.2), (86.2, 0.08), (93, -0.05), (96.6, -0.1), (102, -0.25), (107, 0.05),
          (110, -0.05), (115, -0.22), (120.7, 0.07), (124, 0.0), (127.6, -0.05), (131, -0.1), (134.5, -0.2),
          (138, 0.0), (141.4, -0.1), (147, -0.22), (153, 0.08), (157, 0.0), (162, -0.05), (165.5, -0.15),
          (169, -0.25), (172.4, 0.0), (177.2, -0.1), (180.7, -0.22), (186, 0.08), (189.7, 0.0), (196.5, -0.08),
          (200, -0.15)]
IDX_41 = [(0, 0.0), (2, 0.05), (5.5, 0.12), (9, 0.07), (11.7, 0.05), (13.8, 0.0), (15.9, -0.3), (18.6, -0.5),
          (20.7, -0.57), (24, -0.5), (27.6, -0.4), (31, -0.2), (33, 0.0), (36.6, 0.18), (40, 0.12),
          (44.8, 0.08), (48.3, -0.2), (53, -0.5), (58.6, -0.45), (63.4, -0.2), (65.5, 0.05), (70.3, 0.2),
          (74.5, 0.12), (78, 0.1), (81.4, -0.2), (86.2, -0.5), (91, -0.48), (96.6, -0.2), (100, 0.05),
          (103.4, 0.2), (107, 0.12), (110, 0.1), (115, -0.2), (119.3, -0.5), (124, -0.45), (129, -0.2),
          (132.4, 0.05), (136.6, 0.2), (140, 0.12), (143.4, 0.1), (147, -0.2), (153, -0.5), (158.6, -0.45),
          (162.8, -0.2), (165.5, 0.05), (170.3, 0.2), (173.8, 0.12), (177.2, 0.1), (181.4, -0.2), (186.2, -0.5),
          (191.7, -0.48), (196.5, -0.2), (200, 0.03)]
IDX_42 = [(0, -0.38), (4.3, -0.15), (7.8, -0.17), (10.3, -0.2), (12, -0.18), (14.7, 0.1), (17.2, 0.05),
          (20, -0.05), (23.3, 0.05), (27.6, 0.1), (31, 0.12), (33.6, -0.1), (35.3, -0.3), (37.9, -0.35),
          (40.5, -0.3), (42.2, -0.1), (44, 0.2), (46.6, 0.0), (50.9, 0.08), (53.4, 0.05), (56, -0.02),
          (58, -0.05), (60.3, 0.15), (63, -0.1), (66.4, -0.35), (70.7, -0.2), (75, -0.15), (79.3, 0.1),
          (82, 0.02), (86.2, 0.05), (89.7, 0.1), (92.2, 0.13), (94.8, 0.12), (97, -0.1), (100, -0.35),
          (103.4, -0.25), (107, -0.15), (109.5, 0.15), (112, 0.0), (115.5, 0.05), (119, 0.1), (122.4, 0.13),
          (126.7, -0.35), (131, -0.25), (135.3, -0.15), (138, 0.15), (139.7, 0.0), (144, 0.1), (147, 0.05),
          (150, 0.15), (152, -0.1), (155.2, -0.35), (158.6, -0.2), (163, -0.15), (165.5, 0.2), (168.1, 0.0),
          (174.1, 0.1), (178.4, 0.1), (180, 0.0), (182.8, -0.3), (188, -0.25), (191.4, -0.15), (194, 0.1),
          (198.3, 0.15), (200, -0.35)]
IDX_43 = [(0, 0.27), (4.3, 0.25), (8.7, 0.2), (13, 0.1), (15.7, 0.05), (19, 0.15), (23.5, 0.25), (27.8, 0.2),
          (32, 0.12), (37.4, 0.17), (41.7, 0.12), (46, 0.18), (54.8, 0.25), (59, 0.18), (65, 0.1), (69.6, 0.12),
          (74, 0.15), (78.3, 0.03), (81, 0.15), (84.3, 0.2), (89.6, 0.2), (93, 0.13), (97.4, 0.1), (101.7, 0.15),
          (106, 0.1), (108.7, 0.02), (113, 0.15), (117.4, 0.22), (121.7, 0.12), (126, 0.1), (130.4, 0.15),
          (134.8, 0.08), (137.4, 0.05), (141.7, 0.15), (146, 0.25), (150.4, 0.15), (154.8, 0.1), (159, 0.15),
          (163.5, 0.1), (167.8, 0.02), (172, 0.15), (176.5, 0.22), (180.9, 0.15), (184.3, 0.1), (188.7, 0.15),
          (191.3, 0.08), (195.7, 0.15), (200, 0.12)]
IDX_44 = [(0, -0.2), (5.2, -0.05), (8.7, -0.1), (12.2, -0.3), (14.8, -0.35), (16.5, 0.0), (20, 0.85),
          (22.6, 0.88), (26, 0.8), (30.4, 0.5), (33, -0.2), (36.5, -0.35), (41.7, -0.2), (45.2, -0.28),
          (47.5, -0.25), (50.4, 0.5), (53.9, 0.85), (59, 0.8), (62.6, 0.5), (65.2, -0.2), (67.8, -0.35),
          (71.3, -0.2), (73.9, -0.15), (78.3, -0.3), (80.9, 0.5), (87, 0.85), (91.3, 0.8), (95.6, 0.5),
          (100, -0.3), (102.6, -0.35), (108.7, -0.1), (113, -0.3), (115.7, 0.5), (120, 0.83), (123.5, 0.8),
          (128.7, 0.5), (130.4, -0.3), (133.9, -0.35), (139, -0.12), (144.3, -0.3), (147.8, 0.5),
          (153.9, 0.82), (159, 0.75), (161.7, 0.5), (163.5, -0.3), (167, -0.35), (172.2, -0.15), (176.5, -0.3),
          (179, 0.5), (185.2, 0.85), (189.6, 0.8), (193.9, 0.5), (200, -0.35)]
IDX_45 = [(0, 0.5), (2.6, 0.35), (5.2, 0.4), (8.7, 0.3), (11.3, 0.1), (15.7, -0.3), (20, -0.15), (24.3, -0.05),
          (28.7, 0.0), (31.3, 0.0), (34.8, 0.2), (37.4, 0.3), (40, 0.45), (43.5, 0.3), (46, 0.1),
          (48.7, -0.4), (53, -0.1), (57.4, -0.02), (60.9, 0.0), (65, 0.0), (67.8, 0.25), (72.2, 0.38),
          (76.5, 0.3), (79, 0.0), (81.7, -0.4), (85.2, -0.1), (89.6, -0.03), (95.6, 0.0), (100, 0.2),
          (105.2, 0.4), (108.7, 0.3), (111.3, 0.0), (113.9, -0.4), (117.4, -0.1), (121.7, -0.02), (128.7, 0.0),
          (133, 0.25), (137.4, 0.38), (141.7, 0.25), (147.8, -0.4), (152.2, -0.1), (156.5, 0.0), (161.7, 0.0),
          (166, 0.25), (170.4, 0.4), (174, 0.3), (176.5, -0.1), (179, -0.42), (182.6, -0.1), (187.8, 0.0),
          (193.9, 0.0), (198.3, -0.02), (200, 0.3)]
IDX_46 = [(0, -0.1), (2.6, -0.2), (7, -0.15), (11.3, 0.1), (14, 0.15), (17.4, 0.32), (20, 0.25), (23, 0.2),
          (26, 0.2), (31.3, -0.1), (37.4, -0.32), (41.7, 0.1), (44.3, 0.25), (47, 0.2), (50.4, 0.35),
          (54.8, 0.2), (59, 0.15), (60.9, 0.3), (63.5, -0.1), (67.8, -0.3), (70.4, 0.0), (74.8, 0.2),
          (76.5, 0.22), (80.9, 0.35), (85.2, 0.2), (88.7, 0.12), (91.3, 0.3), (93.9, -0.1), (98.3, -0.32),
          (102.6, 0.0), (105.2, 0.2), (111.3, 0.35), (115.7, 0.2), (120, 0.1), (121.7, 0.3), (124.3, -0.1),
          (128.7, -0.3), (133, 0.0), (137.4, 0.2), (141.7, 0.3), (146, 0.18), (150.4, 0.1), (153, 0.35),
          (156.5, -0.1), (159.1, -0.3), (163.5, 0.0), (167.8, 0.2), (172.2, 0.4), (176.5, 0.2), (180.9, 0.15),
          (182.6, 0.3), (185, 0.1), (187.8, -0.2), (191.3, 0.05), (193.9, 0.25), (196.5, 0.1), (200, 0.35)]

SERIES = [IDX_00, IDX_01, IDX_02, IDX_03, IDX_04, IDX_05, IDX_06, IDX_07, IDX_08, IDX_09,
          IDX_10, IDX_11, IDX_12, IDX_13, IDX_14, IDX_15, IDX_16, IDX_17, IDX_18, IDX_19,
          IDX_20, IDX_21, IDX_22, IDX_23, IDX_24, IDX_25, IDX_26, IDX_27, IDX_28, IDX_29,
          IDX_30, IDX_31, IDX_32, IDX_33, IDX_34, IDX_35, IDX_36, IDX_37, IDX_38, IDX_39,
          IDX_40, IDX_41, IDX_42, IDX_43, IDX_44, IDX_45, IDX_46]

rows = []
for i, pts in enumerate(SERIES):
    for s, v in pts:
        rows.append({"idx": i, "step": s, "value": v})
df = pd.DataFrame(rows)

FONT = "DejaVu Sans"
FS = 13.9


def panel(i):
    bottom = i >= 42
    return (
        alt.Chart(title=alt.TitleParams(f"Idx {i}", font=FONT, fontSize=FS, fontWeight="normal",
                                        color="black", anchor="middle", offset=-3))
        .mark_line(clip=True, color=LINE_COLOR, strokeWidth=2.1, interpolate="monotone")
        .encode(
            x=alt.X("step:Q", scale=alt.Scale(domain=[0, 200], nice=False, zero=False),
                    axis=alt.Axis(title="Step", values=X_TICKS, labels=bottom, format="d")),
            y=alt.Y("value:Q", scale=alt.Scale(domain=[-1, 1], nice=False),
                    axis=alt.Axis(title="Value", values=Y_TICKS, format=".1f")),
        )
        .transform_filter(alt.datum.idx == i)
        .properties(width=209, height=124)
    )


panels = [panel(i) for i in range(len(SERIES))]

chart = (
    alt.concat(*panels, columns=7, spacing={"row": 58, "column": 91}, bounds="flush", data=df,
               title=alt.TitleParams(TITLE, font=FONT, fontSize=19.4, fontWeight="normal", color="black",
                                     anchor="middle", offset=57, dx=0))
    .properties(padding={"left": 15, "top": 28, "right": 10, "bottom": 0})
    .configure_axis(
        labelFont=FONT, labelFontSize=FS, labelColor="black",
        titleFont=FONT, titleFontSize=FS, titleFontWeight="normal", titleColor="black",
        domainColor="black", domainWidth=0.8, tickColor="black", tickWidth=0.8, tickSize=5,
        labelPadding=4, titlePadding=4, grid=True, gridColor="#b0b0b0", gridWidth=0.8,
    )
    .configure_view(stroke="black", strokeWidth=0.8)
)

chart.save("out.html", embed_options={"renderer": "svg", "actions": False})
